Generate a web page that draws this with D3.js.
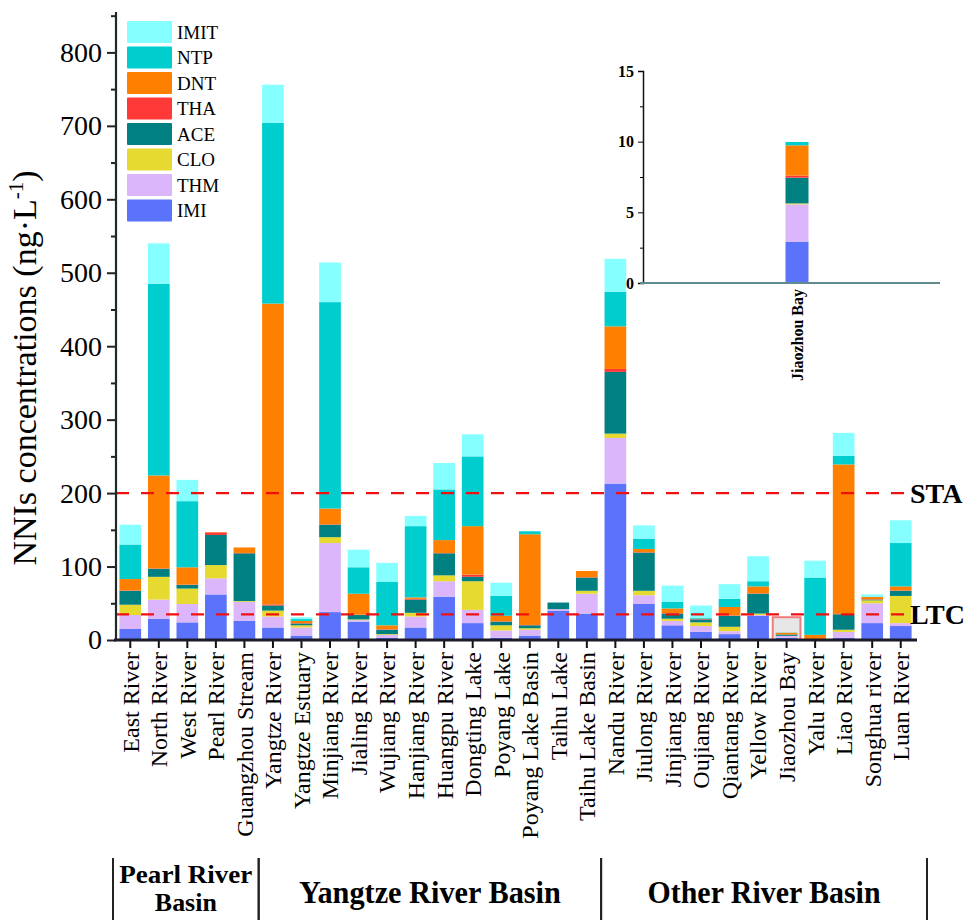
<!DOCTYPE html>
<html>
<head>
<meta charset="utf-8">
<script src="https://cdn.jsdelivr.net/npm/d3@7"></script>
<style>
  body { margin: 0; background: #fff; }
  text { font-family: "Liberation Serif", "Times New Roman", serif; fill: #000; }
</style>
</head>
<body>
<script>
// sites along x axis
var sites = ["East River", "North River", "West River", "Pearl River", "Guangzhou Stream",
  "Yangtze River", "Yangtze Estuary", "Minjiang River", "Jialing River", "Wujiang River",
  "Hanjiang River", "Huangpu River", "Dongting Lake", "Poyang Lake", "Poyang Lake Basin",
  "Taihu Lake", "Taihu Lake Basin", "Nandu River", "Jiulong River", "Jinjiang River",
  "Oujiang River", "Qiantang River", "Yellow River", "Jiaozhou Bay", "Yalu River",
  "Liao River", "Songhua river", "Luan River"];

// ng/L per compound, one value per site (stack order bottom -> top)
var IMI  = [15, 29, 24, 62, 26, 17, 6, 38, 25, 3, 17, 59, 23, 3, 6, 40, 36, 213, 49, 20, 11, 8, 33, 2.93, 0, 3, 23, 19];
var THM  = [19, 26, 25, 22, 26, 15, 11, 94, 2, 4, 15, 21, 18, 10, 8, 2, 27, 62, 12, 6, 8, 4, 1, 2.63, 0, 8, 27, 4];
var CLO  = [14, 31, 21, 18, 1, 8, 3, 8, 1, 1, 5, 8, 39, 7, 2, 0, 4, 6, 6, 3, 5, 6, 2, 0.07, 0, 3, 4, 37];
var ACE  = [19, 11, 5, 41, 65, 7, 2.5, 17, 6, 6, 18, 30, 6, 5, 4, 9, 18, 84, 52, 7, 4, 15, 27, 1.82, 0, 21, 1, 7];
var THA  = [0.5, 0.5, 0.5, 3.5, 0.5, 1.5, 0.5, 0.5, 0.5, 0.5, 1, 0.5, 3, 0.5, 0.5, 0, 0.5, 4, 0.5, 0.5, 0.5, 0.5, 0.5, 0.15, 0, 0.5, 0.5, 0.5];
var DNT  = [15.5, 126.5, 23.5, 0.5, 7.5, 409.5, 3, 21.5, 28.5, 5.5, 2, 17.5, 66, 7.5, 123.5, 0, 8.5, 58, 4.5, 6.5, 0.5, 11.5, 9.5, 2.14, 7, 203.5, 3, 5.5];
var NTP  = [47, 261, 90, 0, 0, 246, 2.5, 281, 36, 59, 97, 69, 95, 27, 4, 0, 0, 47, 14, 9, 1, 11, 7, 0.24, 78, 12, 0.5, 59];
var IMIT = [27, 55, 29, 0, 0, 52, 2.5, 54, 24, 26, 14, 36, 30, 18, 0, 0, 0, 45, 18, 22, 17, 20, 34, 0, 23, 31, 3, 31];

var compounds = ["IMI", "THM", "CLO", "ACE", "THA", "DNT", "NTP", "IMIT"];
var colors = ["#5b72fb", "#dcb6fb", "#e6da30", "#008080", "#ff3838", "#ff8000", "#00cdcd", "#85ffff"];
var yTicks = [0, 100, 200, 300, 400, 500, 600, 700, 800];
var guideValues = [200, 35];
var guideLabels = ["STA", "LTC"];
var basins = [
  {name: ["Pearl River", "Basin"], from: 0, to: 4},
  {name: ["Yangtze River Basin"], from: 5, to: 16},
  {name: ["Other River Basin"], from: 17, to: 27}
];
var insetSite = "Jiaozhou Bay";
var insetTicks = [0, 5, 10, 15];

var series = {IMI: IMI, THM: THM, CLO: CLO, ACE: ACE, THA: THA, DNT: DNT, NTP: NTP, IMIT: IMIT};
var rows = sites.map(function (s, i) {
  var r = {site: s};
  compounds.forEach(function (c) { r[c] = series[c][i]; });
  return r;
});
var color = d3.scaleOrdinal().domain(compounds).range(colors);
var stacked = d3.stack().keys(compounds)(rows);

var width = 980, height = 920;
var svg = d3.select("body").append("svg")
  .attr("width", width)
  .attr("height", height);

var x = d3.scaleBand().domain(sites).range([116, 915])
  .paddingInner(0.24).paddingOuter(0.12);
var y = d3.scaleLinear().domain([0, 855]).range([640, 12]);

// highlight box behind Jiaozhou Bay
svg.append("rect")
  .attr("x", x(insetSite) - 3)
  .attr("y", y(31))
  .attr("width", x.bandwidth() + 6)
  .attr("height", y(0) - y(31))
  .attr("fill", "#e6e6e6")
  .attr("stroke", "#f07c7c")
  .attr("stroke-width", 2);

// stacked bars
svg.append("g").selectAll("g")
  .data(stacked).enter()
  .append("g").attr("fill", function (d) { return color(d.key); })
  .selectAll("rect")
  .data(function (d) { return d; }).enter()
  .append("rect")
  .attr("x", function (d) { return x(d.data.site); })
  .attr("y", function (d) { return y(d[1]); })
  .attr("width", x.bandwidth())
  .attr("height", function (d) { return Math.max(0, y(d[0]) - y(d[1])); });

// dashed guide lines
guideValues.forEach(function (v, i) {
  svg.append("line")
    .attr("x1", 116).attr("x2", 905)
    .attr("y1", y(v)).attr("y2", y(v))
    .attr("stroke", "#f01010")
    .attr("stroke-width", 2.2)
    .attr("stroke-dasharray", "13,12");
  svg.append("text")
    .attr("x", 910).attr("y", y(v))
    .attr("dy", "0.35em")
    .style("font-size", "28px")
    .style("font-weight", "bold")
    .text(guideLabels[i]);
});

// y axis
var yAxis = svg.append("g").attr("transform", "translate(116,0)")
  .call(d3.axisLeft(y).tickValues(yTicks).tickSize(9).tickPadding(5).tickFormat(d3.format("d")));
yAxis.select(".domain").remove();
yAxis.selectAll("text").style("font-size", "28px").style("font-family", "Liberation Serif");
yAxis.selectAll("line").attr("stroke", "#222").attr("stroke-width", 2);
svg.append("g").attr("transform", "translate(116,0)")
  .call(d3.axisLeft(y).tickValues(d3.range(50, 855, 100)).tickSize(5).tickFormat(""))
  .call(function (g) { g.select(".domain").remove(); })
  .selectAll("line").attr("stroke", "#222").attr("stroke-width", 2);
svg.append("line")
  .attr("x1", 116).attr("x2", 116).attr("y1", y(855)).attr("y2", y(0))
  .attr("stroke", "#1e2a2a").attr("stroke-width", 2.2);

// x axis
var xAxis = svg.append("g").attr("transform", "translate(0,640)")
  .call(d3.axisBottom(x).tickSize(8).tickFormat(""));
xAxis.select(".domain").remove();
xAxis.selectAll("line").attr("stroke", "#111").attr("stroke-width", 2);
svg.append("line")
  .attr("x1", 114).attr("x2", 917).attr("y1", 640).attr("y2", 640)
  .attr("stroke", "#1a1a2a").attr("stroke-width", 3);
svg.append("g").selectAll("text")
  .data(sites).enter()
  .append("text")
  .attr("transform", function (d) {
    return "translate(" + (x(d) + x.bandwidth() / 2) + ",652) rotate(-90)";
  })
  .attr("text-anchor", "end")
  .attr("dy", "0.35em")
  .style("font-size", "24px")
  .text(function (d) { return d; });

// y title
svg.append("text")
  .attr("transform", "translate(36,368) rotate(-90)")
  .attr("text-anchor", "middle")
  .style("font-size", "34px")
  .html("NNIs concentrations (ng\u00b7L<tspan dy='-13' font-size='21'>-1</tspan><tspan dy='13'>)</tspan>");

// legend
var legend = svg.append("g").selectAll("g")
  .data(compounds.slice().reverse()).enter()
  .append("g")
  .attr("transform", function (d, i) { return "translate(127," + (21 + i * 25.5) + ")"; });
legend.append("rect")
  .attr("width", 45).attr("height", 22).attr("rx", 1)
  .attr("fill", function (d) { return color(d); });
legend.append("text")
  .attr("x", 50).attr("y", 11).attr("dy", "0.35em")
  .style("font-size", "19px")
  .text(function (d) { return d; });

// basin groups below the axis
var step = x.step();
basins.forEach(function (b, i) {
  var left = x(sites[b.from]) + x.bandwidth() / 2 - step / 2;
  var right = x(sites[b.to]) + x.bandwidth() / 2 + step / 2;
  if (i === 0) left -= 3;
  if (i === basins.length - 1) right += 12;
  [left, right].forEach(function (xx) {
    svg.append("line")
      .attr("x1", xx).attr("x2", xx).attr("y1", 858).attr("y2", 920)
      .attr("stroke", "#222").attr("stroke-width", 2);
  });
  var cx = (left + right) / 2;
  var two = b.name.length > 1;
  b.name.forEach(function (line, j) {
    var t = svg.append("text")
      .attr("x", cx)
      .attr("y", two ? 883 + j * 28 : 903)
      .attr("text-anchor", "middle")
      .style("font-size", two ? "26px" : "31px")
      .style("font-weight", "bold")
      .text(line);
    var w = line === "Yangtze River Basin" ? 262 : line === "Other River Basin" ? 233 : line === "Pearl River" ? 133 : 62;
    t.attr("textLength", w).attr("lengthAdjust", "spacingAndGlyphs");
  });
});

// inset chart for Jiaozhou Bay
var insetRows = rows.filter(function (r) { return r.site === insetSite; });
var ix = d3.scaleBand().domain([insetSite]).range([643, 951]).paddingInner(0).paddingOuter(6.2);
var iy = d3.scaleLinear().domain([0, 15]).range([283, 71]);
var inset = svg.append("g");
inset.selectAll("rect")
  .data(d3.stack().keys(compounds)(insetRows)).enter()
  .append("rect")
  .attr("fill", function (d) { return color(d.key); })
  .attr("x", ix(insetSite))
  .attr("y", function (d) { return iy(d[0][1]); })
  .attr("width", ix.bandwidth())
  .attr("height", function (d) { return Math.max(0, iy(d[0][0]) - iy(d[0][1])); });
var iAxis = inset.append("g").attr("transform", "translate(643,0)")
  .call(d3.axisLeft(iy).tickValues(insetTicks).tickSize(5).tickPadding(4));
iAxis.select(".domain").attr("stroke", "#111").attr("stroke-width", 1.5);
iAxis.selectAll("text").style("font-size", "16px").style("font-weight", "bold").style("font-family", "Liberation Serif");
inset.append("g").attr("transform", "translate(643,0)")
  .call(d3.axisLeft(iy).tickValues([2.5, 7.5, 12.5]).tickSize(3).tickFormat(""))
  .call(function (g) { g.select(".domain").remove(); });
inset.append("line")
  .attr("x1", 640).attr("x2", 940).attr("y1", iy(0)).attr("y2", iy(0))
  .attr("stroke", "#5f8c8c").attr("stroke-width", 2);
inset.append("text")
  .attr("transform", "translate(" + (ix(insetSite) + ix.bandwidth() / 2) + ",289) rotate(-90)")
  .attr("text-anchor", "end")
  .attr("dy", "0.35em")
  .style("font-size", "16px")
  .style("font-weight", "bold")
  .text(insetSite);
</script>
</body>
</html>
